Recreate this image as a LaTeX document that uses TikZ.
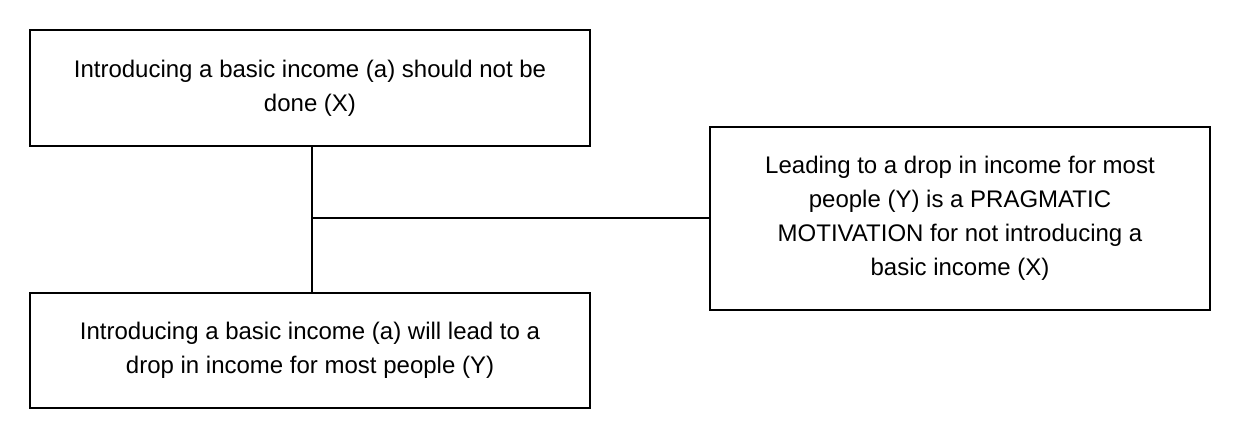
\documentclass[tikz,border=0pt]{standalone}
\usepackage{fontspec}
\setmainfont{Liberation Sans}
\begin{document}
\begin{tikzpicture}[x=1pt,y=-1pt,
  box/.style={draw,line width=1.3pt,align=center,font=\fontsize{24}{34}\selectfont,inner sep=0pt},
  conn/.style={line width=1.3pt}]
\useasboundingbox (0,0) rectangle (1240,438);
\node[box,minimum width=560,minimum height=116] (x) at (310,88) {Introducing a basic income (a) should not be\\done (X)};
\node[box,minimum width=560,minimum height=115] (y) at (310,350.5) {Introducing a basic income (a) will lead to a\\drop in income for most people (Y)};
\node[box,minimum width=500,minimum height=183] (m) at (960,218.5) {Leading to a drop in income for most\\people (Y) is a PRAGMATIC\\MOTIVATION for not introducing a\\basic income (X)};
\coordinate (j) at (312,218);
\draw[conn] (x.south -| j) -- (y.north -| j);
\draw[conn] (j) -- (m.west |- j);
\end{tikzpicture}
\end{document}
